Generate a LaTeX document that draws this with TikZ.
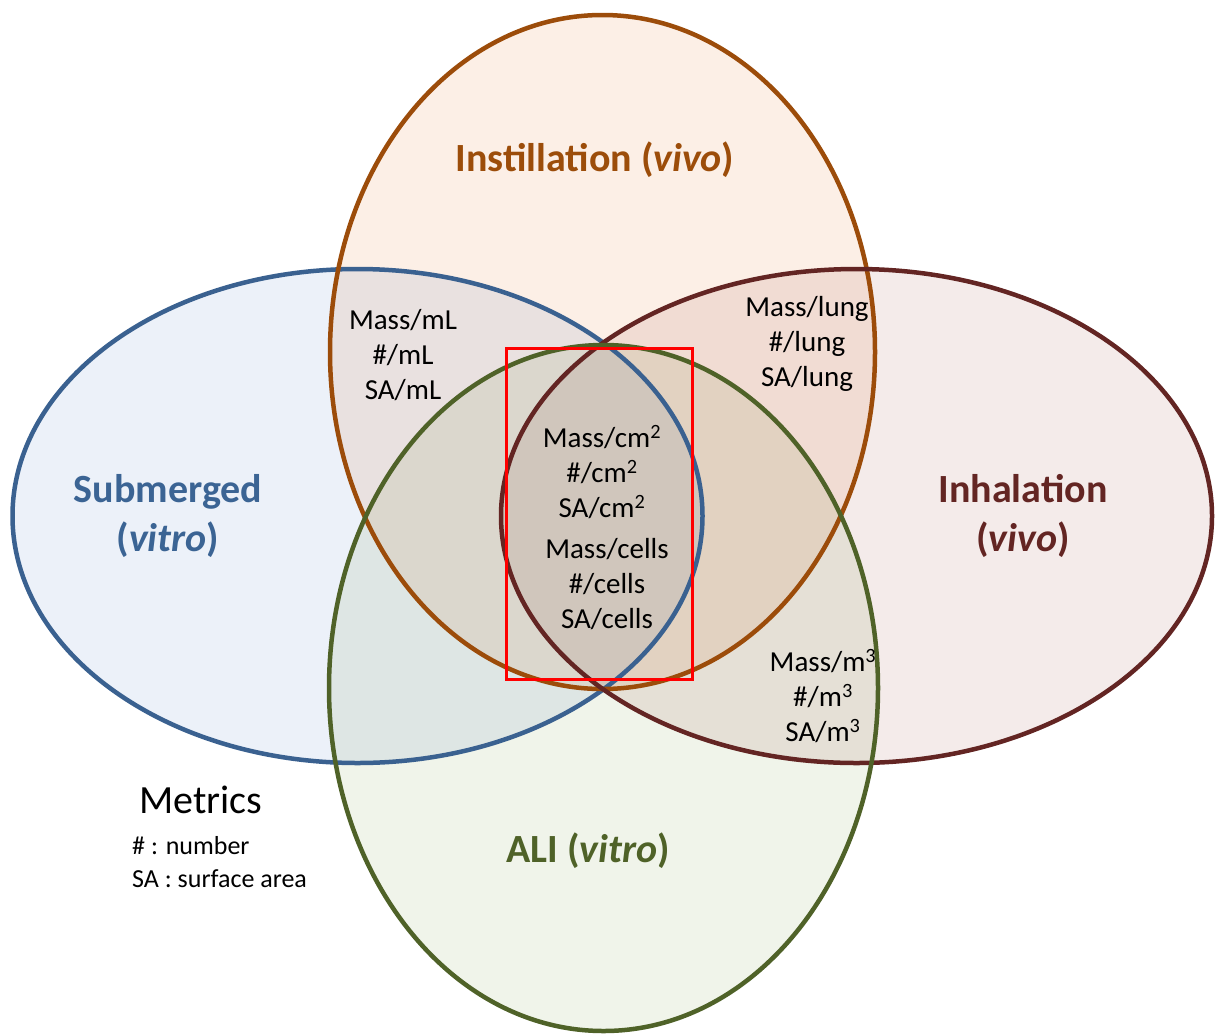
\documentclass[tikz,border=0pt]{standalone}
\usepackage{fontspec}
\setmainfont{Carlito}
\definecolor{fillB}{RGB}{236,241,249}
\definecolor{fillO}{RGB}{252,239,230}
\definecolor{fillM}{RGB}{244,235,234}
\definecolor{fillG}{RGB}{240,244,234}
\definecolor{lnB}{HTML}{3A6190}
\definecolor{lnO}{HTML}{9C4C0A}
\definecolor{lnM}{HTML}{632523}
\definecolor{lnG}{HTML}{4F6228}
\definecolor{txB}{HTML}{3B6494}
\definecolor{txO}{HTML}{9C4D0A}
\definecolor{txM}{HTML}{632523}
\definecolor{txG}{HTML}{4F6228}
\newcommand{\sups}[1]{\textsuperscript{#1}}
\begin{document}
\begin{tikzpicture}[x=1pt,y=-1pt,
  metric/.style={align=center,font=\fontsize{29}{35}\selectfont,inner sep=0pt},
  titletext/.style={align=center,font=\fontsize{40}{49}\selectfont\bfseries,inner sep=0pt},
  ring/.style={line width=4.5pt}]
\useasboundingbox (0,0) rectangle (1215,1034);
% fills
\begin{scope}[blend mode=multiply]
\fill[fillB] (357.5,516) ellipse [x radius=345pt,y radius=247pt];
\fill[fillO] (602.5,352) ellipse [x radius=272.5pt,y radius=337pt];
\fill[fillM] (856.5,516) ellipse [x radius=355.5pt,y radius=247pt];
\fill[fillG] (603.5,688) ellipse [x radius=274.5pt,y radius=343pt];
\end{scope}
% outlines
\draw[ring,lnB] (357.5,516) ellipse [x radius=345pt,y radius=247pt];
\draw[ring,lnO] (602.5,352) ellipse [x radius=272.5pt,y radius=337pt];
\draw[ring,lnM] (856.5,516) ellipse [x radius=355.5pt,y radius=247pt];
\draw[ring,lnG] (603.5,688) ellipse [x radius=274.5pt,y radius=343pt];
% red box
\draw[line width=3pt,red] (506,348) rectangle (692,679);
% titles
\node[titletext,text=txO] (inst) at (595,160) {Instillation (\textit{vivo})};
\node[titletext,text=txB] (sub) at (168,516) {Submerged\\(\textit{vitro})};
\node[titletext,text=txM] (inh) at (1023,516) {Inhalation\\(\textit{vivo})};
\node[titletext,text=txG] (ali) at (588,851) {ALI (\textit{vitro})};
% metrics
\node[metric] (ml) at (403,355) {Mass/mL\\\#/mL\\SA/mL};
\node[metric] (lung) at (807,344) {Mass/lung\\\#/lung\\SA/lung};
\node[metric] (cm) at (602,472) {Mass/cm\sups{2}\\\#/cm\sups{2}\\SA/cm\sups{2}};
\node[metric] (cells) at (607,584) {Mass/cells\\\#/cells\\SA/cells};
\node[metric] (m3) at (823,696) {Mass/m\sups{3}\\\#/m\sups{3}\\SA/m\sups{3}};
% legend
\node[font=\fontsize{40}{48}\selectfont,anchor=west,inner sep=0pt] (met) at (139,800) {Metrics};
\node[font=\fontsize{26}{32}\selectfont,anchor=west,inner sep=0pt] (num) at (132,846) {\# : number};
\node[font=\fontsize{26}{32}\selectfont,anchor=west,inner sep=0pt] (sa) at (132,879) {SA : surface area};
\end{tikzpicture}
\end{document}
